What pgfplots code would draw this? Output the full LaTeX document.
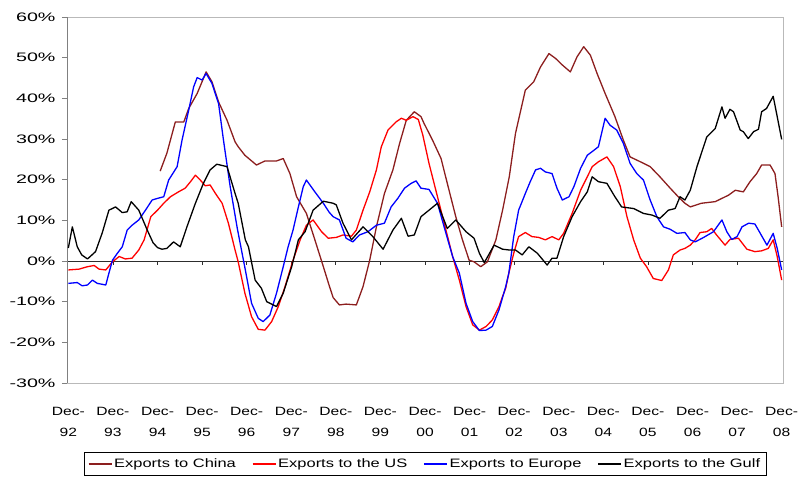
\documentclass[border=0pt]{standalone}
\usepackage{pgfplots}
\pgfplotsset{compat=1.18}
\usepackage{fontspec}
\setmainfont{Liberation Sans}[FakeStretch=1.3]
\newfontfamily\ylabfont{Liberation Sans}[FakeStretch=1.6]
\newfontfamily\legfont{Liberation Sans}[FakeStretch=1.35]
\definecolor{china}{RGB}{140,30,30}
\definecolor{usred}{RGB}{255,0,0}
\definecolor{eublue}{RGB}{0,0,255}
\begin{document}
\begin{tikzpicture}
\begin{axis}[
  at={(0pt,0pt)}, anchor=south west,
  scale only axis, width=716pt, height=366pt,
  xmin=-0.03, xmax=16.03, ymin=-30, ymax=60,
  axis line style={draw=gray!55, line width=0.9pt},
  xtick={0,...,16},
  xticklabels={{Dec-\\92},{Dec-\\93},{Dec-\\94},{Dec-\\95},{Dec-\\96},{Dec-\\97},{Dec-\\98},{Dec-\\99},{Dec-\\00},{Dec-\\01},{Dec-\\02},{Dec-\\03},{Dec-\\04},{Dec-\\05},{Dec-\\06},{Dec-\\07},{Dec-\\08}},
  xticklabel style={align=center, yshift=-16pt, font=\fontsize{12}{21}\selectfont},
  x tick style={draw=none},
  ytick={-30,-20,...,60},
  yticklabels={-30\%,-20\%,-10\%,0\%,10\%,20\%,30\%,40\%,50\%,60\%},
  yticklabel style={font=\ylabfont\fontsize{12.3}{14}\selectfont, xshift=-3pt},
  y tick style={draw=gray, line width=0.7pt},
  tick align=outside, ytick pos=left, major tick length=5pt,
  legend style={at={(0.5,-0.1885)}, anchor=north, legend columns=4, draw=black, line width=0.6pt,
    font=\legfont\fontsize{12.2}{14}\selectfont, inner xsep=4pt, inner ysep=4.5pt,
    /tikz/every even column/.append style={column sep=14pt}},
  legend image code/.code={\draw[#1, line width=1.3pt] (0pt,0pt) -- (23pt,0pt);},
  legend cell align=left,
  every axis plot/.append style={line width=1.3pt, no markers, line join=round},
]
\draw[gray!35!black, line width=0.8pt] (axis cs:-0.03,0) -- (axis cs:16.03,0);
\pgfplotsinvokeforeach{1,...,15}{\draw[gray!35!black, line width=0.7pt] (axis cs:#1,0) -- ([yshift=-4pt]axis cs:#1,0);}
\draw[gray, line width=0.9pt] (rel axis cs:0,0) -- (rel axis cs:0,1);

\addplot[china] table {
2.06 22.1
2.21 26.5
2.4 34.2
2.59 34.2
2.7 37.5
2.89 41.2
3.0 44.1
3.09 46.5
3.22 44.1
3.37 39.1
3.56 34.6
3.74 29.3
3.81 28.1
3.96 26.0
4.22 23.6
4.41 24.6
4.67 24.6
4.82 25.2
4.97 21.5
5.12 15.8
5.34 11.7
5.53 5.2
5.72 -1.4
5.85 -6
5.94 -9.0
6.08 -10.8
6.23 -10.6
6.46 -10.8
6.61 -6.3
6.76 0.2
6.91 8.4
7.09 16.6
7.28 22.4
7.43 28.9
7.58 34.6
7.76 36.7
7.91 35.5
7.98 33.8
8.17 29.7
8.36 25.2
8.5 19.1
8.69 10.9
8.84 5.2
8.99 0.2
9.1 -0.2
9.25 -1.4
9.4 -0.2
9.59 5.2
9.74 12.5
9.89 20.7
10.03 31.4
10.25 42.0
10.44 44.1
10.59 47.7
10.78 51.0
10.93 49.8
11.08 48.2
11.26 46.5
11.41 50.2
11.56 52.7
11.71 50.6
11.86 46.1
12.04 41.2
12.26 35.5
12.45 29.7
12.6 25.6
12.83 24.4
13.05 23.2
13.27 20.7
13.5 17.9
13.68 15.8
13.83 14.2
13.95 13.3
14.2 14.2
14.51 14.6
14.66 15.4
14.81 16.2
14.96 17.4
15.14 17.0
15.29 19.5
15.44 21.5
15.55 23.6
15.74 23.6
15.85 21.5
15.92 15.8
16.0 8.4
};
\addlegendentry{Exports to China}

\addplot[usred] table {
0 -2.2
0.24 -2.0
0.43 -1.4
0.58 -1.1
0.69 -2.0
0.84 -2.2
0.99 -0.2
1.14 1.1
1.28 0.5
1.43 0.7
1.58 2.7
1.7 5.2
1.85 10.9
2.0 12.5
2.14 14.2
2.29 15.8
2.47 17.0
2.62 17.9
2.74 19.5
2.85 21.1
2.96 19.9
3.07 18.5
3.18 18.7
3.3 16.6
3.45 14.2
3.59 9.3
3.74 2.7
3.81 -0.2
3.96 -7.9
4.11 -13.7
4.26 -16.8
4.41 -17.0
4.56 -14.9
4.71 -11.2
4.86 -6.3
5.04 0.2
5.2 5.2
5.34 8.8
5.49 10.1
5.68 7.2
5.83 5.6
6.01 5.8
6.16 6.4
6.35 6.1
6.46 7.6
6.61 12.5
6.76 17.0
6.91 22.4
7.02 28.1
7.17 32.2
7.35 34.2
7.47 35.1
7.58 34.6
7.73 35.5
7.85 34.8
7.95 31
8.09 24.0
8.28 15.8
8.47 7.6
8.62 1.1
8.77 -4.7
8.92 -11.2
9.07 -15.7
9.22 -17.0
9.37 -16.1
9.51 -14.5
9.66 -11.2
9.73 -9.0
9.81 -6.7
9.88 -3.0
9.99 1.9
10.1 6.0
10.25 7.0
10.4 6.0
10.55 5.8
10.7 5.2
10.85 6.0
11.0 5.2
11.11 6.8
11.3 11.7
11.49 17.4
11.64 20.7
11.75 23.2
11.89 24.4
12.08 25.6
12.23 23.2
12.38 18.3
12.53 10.9
12.68 5.2
12.83 0.7
12.97 -1.4
13.12 -4.3
13.31 -4.8
13.46 -2.2
13.57 1.5
13.72 2.7
13.83 3.1
13.95 3.9
14.06 5.2
14.17 7.0
14.32 7.2
14.43 8.0
14.54 6.4
14.73 3.9
14.84 5.3
15.03 5.6
15.22 2.9
15.4 2.3
15.55 2.5
15.7 3.1
15.81 5.2
15.9 1.1
16.0 -4.7
};
\addlegendentry{Exports to the US}

\addplot[eublue] table {
0 -5.5
0.2 -5.3
0.31 -6.1
0.43 -5.9
0.54 -4.7
0.65 -5.5
0.84 -5.9
0.91 -3.0
0.99 0.2
1.1 1.9
1.21 3.5
1.32 7.6
1.43 8.8
1.58 10.1
1.73 12.5
1.88 15.0
2.0 15.4
2.14 15.8
2.25 19.9
2.44 23.2
2.55 29.7
2.7 37.1
2.81 42.8
2.89 45.1
3.0 44.5
3.09 46.1
3.22 43.7
3.37 38.7
3.48 29.7
3.63 18.3
3.79 8.0
3.97 -2.2
4.11 -10.4
4.26 -14.1
4.37 -14.9
4.52 -13.3
4.67 -7.9
4.82 -1.4
4.93 3.5
5.04 7.6
5.16 13.3
5.27 18.3
5.34 19.9
5.53 17.0
5.72 14.2
5.85 12
5.94 10.9
6.08 10.1
6.23 5.6
6.38 4.7
6.53 6.4
6.72 7.2
6.91 8.8
7.09 9.3
7.24 13.3
7.39 15.4
7.54 17.9
7.69 19.1
7.8 19.7
7.91 17.9
8.09 17.6
8.28 14.2
8.47 6.8
8.62 1.1
8.77 -3.0
8.92 -10.4
9.07 -14.9
9.22 -17.1
9.37 -17.0
9.51 -16.1
9.66 -12.0
9.81 -6.3
9.88 -3.0
9.99 6.0
10.1 12.5
10.25 16.6
10.36 19.5
10.48 22.4
10.59 22.8
10.7 21.9
10.85 21.5
10.96 17.9
11.08 15.0
11.23 15.8
11.34 18.3
11.49 22.8
11.64 26.0
11.75 26.9
11.89 28.1
12.04 35.1
12.15 33.4
12.3 32.2
12.45 28.9
12.6 24.0
12.75 21.5
12.9 19.9
13.05 15.0
13.2 10.9
13.35 8.4
13.5 7.8
13.65 6.8
13.83 7.0
13.95 5.2
14.06 4.7
14.25 5.8
14.47 7.2
14.66 10.1
14.77 7.2
14.88 5.3
15.0 6.0
15.11 8.4
15.26 9.3
15.4 9.1
15.52 6.8
15.67 3.9
15.81 6.8
15.9 3.1
16.0 -2.2
};
\addlegendentry{Exports to Europe}

\addplot[black] table {
0 3.2
0.09 8.4
0.2 3.5
0.3 1.5
0.43 0.5
0.61 2.3
0.76 6.9
0.91 12.5
1.06 13.3
1.21 11.9
1.32 12.1
1.41 14.6
1.58 12.5
1.77 7.6
1.9 4.5
2.0 3.3
2.1 2.9
2.21 3.1
2.36 4.7
2.51 3.5
2.66 8.4
2.85 14.2
3.03 19.1
3.18 22.4
3.33 23.8
3.56 23.2
3.74 16.6
3.81 14.2
3.97 5.2
4.04 3.5
4.19 -4.7
4.33 -6.7
4.45 -10
4.67 -11.2
4.82 -7.9
5.01 -1.4
5.16 5.2
5.31 7.2
5.49 12.5
5.72 14.7
5.94 14.2
6.01 13.8
6.16 9.3
6.35 5.2
6.61 8.4
6.83 6.0
7.06 2.9
7.28 7.6
7.47 10.5
7.62 6.1
7.76 6.4
7.91 10.9
8.09 12.5
8.28 14.2
8.5 8.0
8.69 10.1
8.92 7.2
9.1 5.6
9.22 1.9
9.33 -0.4
9.55 3.9
9.74 2.9
9.89 2.7
10.03 2.7
10.18 1.5
10.33 3.5
10.52 1.9
10.74 -1.0
10.85 0.7
10.96 0.7
11.11 6.0
11.30 10.9
11.49 14.6
11.64 17.0
11.75 20.7
11.89 19.5
12.08 19.1
12.26 15.8
12.41 13.3
12.68 12.9
12.9 11.7
13.09 11.3
13.27 10.5
13.46 12.5
13.61 12.9
13.72 15.8
13.83 15.0
13.95 17.4
14.1 23.2
14.32 30.5
14.51 32.6
14.66 37.9
14.73 35.1
14.84 37.3
14.92 36.7
15.07 32.2
15.14 31.8
15.25 30.1
15.37 31.8
15.48 32.4
15.55 36.7
15.66 37.5
15.81 40.5
15.9 35.5
16.0 29.9
};
\addlegendentry{Exports to the Gulf}
\end{axis}
\pgfresetboundingbox
\path (-67pt,-96pt) rectangle (733pt,383pt);
\end{tikzpicture}
\end{document}
